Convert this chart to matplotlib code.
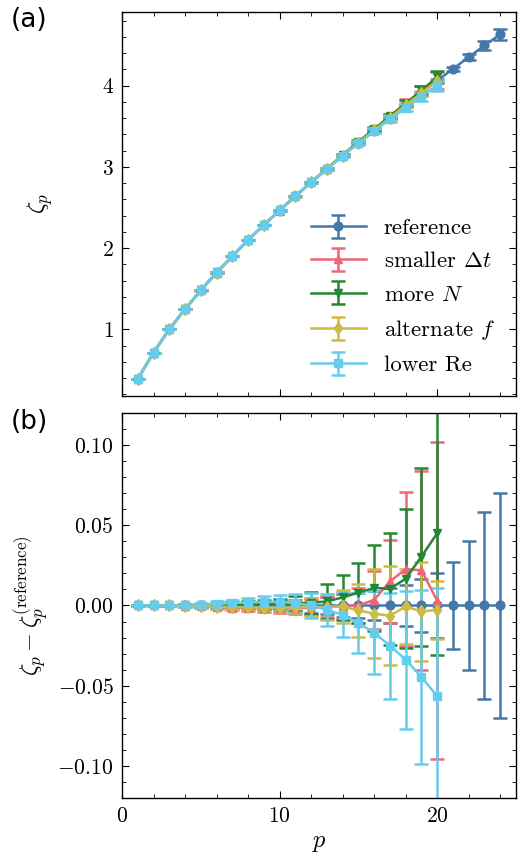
import numpy as np
import matplotlib
matplotlib.use("Agg")
import matplotlib.pyplot as plt
from matplotlib.ticker import MultipleLocator

# === Données ===
p_ref = [1, 2, 3, 4, 5, 6, 7, 8, 9, 10, 11, 12, 13, 14, 15, 16, 17, 18, 19, 20, 21, 22, 23, 24]
zeta_ref = [0.39, 0.715, 1.0, 1.25, 1.48, 1.70, 1.90, 2.10, 2.285, 2.465, 2.64, 2.81,
            2.975, 3.14, 3.30, 3.455, 3.61, 3.76, 3.91, 4.06, 4.205, 4.35, 4.495, 4.63]
err_ref = [0.0003, 0.0004, 0.0005, 0.0007, 0.0009, 0.0012, 0.0015, 0.0019, 0.0024, 0.003,
           0.0037, 0.0045, 0.0055, 0.007, 0.008, 0.0093, 0.011, 0.013, 0.0165, 0.0205,
           0.027, 0.040, 0.058, 0.070]

p = p_ref[:20]

# écarts à la référence (panneau b)
diff_dt = [0, 0, 0, -0.0003, -0.0005, -0.001, -0.0013, -0.0015, -0.0017, -0.0018,
           -0.0018, -0.0015, -0.001, -0.0005, 0.0, 0.0035, 0.015, 0.0226, 0.022, 0.003]
err_dt = [0.0003, 0.0004, 0.0005, 0.0007, 0.0009, 0.0012, 0.0015, 0.0019, 0.0024, 0.003,
          0.0037, 0.0047, 0.006, 0.008, 0.011, 0.018, 0.026, 0.048, 0.062, 0.099]

diff_N = [0, 0, 0, 0.0001, 0.0002, 0.0003, 0.0004, 0.0005, 0.0007, 0.0009,
          0.0012, 0.0017, 0.0025, 0.005, 0.008, 0.011, 0.0104, 0.0166, 0.0304, 0.045]
err_N = [0.0003, 0.0004, 0.0005, 0.0007, 0.0009, 0.0012, 0.0016, 0.002, 0.0026, 0.0033,
         0.0045, 0.007, 0.011, 0.014, 0.0187, 0.027, 0.035, 0.0434, 0.0556, 0.076]

diff_f = [0, 0, 0, -0.0003, -0.0005, -0.0008, -0.001, -0.0012, -0.0013, -0.0013,
          -0.0012, -0.001, -0.001, -0.0006, -0.0031, -0.005, -0.0064, -0.0006, -0.0037, -0.0028]
err_f = [0.0003, 0.0004, 0.0005, 0.0007, 0.0009, 0.0012, 0.0015, 0.0019, 0.0024, 0.003,
         0.0037, 0.0055, 0.008, 0.0105, 0.0165, 0.028, 0.031, 0.0235, 0.031, 0.018]

diff_re = [0, 0, 0, 0, 0.0003, 0.001, 0.0015, 0.002, 0.0022, 0.0022,
           0.0015, 0.0, -0.0027, -0.0058, -0.011, -0.017, -0.025, -0.0337, -0.0445, -0.0565]
err_re = [0.0003, 0.0004, 0.0006, 0.0008, 0.0011, 0.0015, 0.002, 0.0027, 0.0035, 0.0045,
          0.0058, 0.0075, 0.010, 0.014, 0.0186, 0.026, 0.033, 0.043, 0.054, 0.0675]

labels = ["reference", r"smaller $\Delta t$", r"more $N$", r"alternate $f$", "lower Re"]
colors = ["#4477AA", "#EE6677", "#228833", "#CCBB44", "#66CCEE"]
markers = ["o", "^", "v", "d", "s"]

# === Style ===
plt.rcParams.update({
    "font.family": "serif",
    "font.serif": ["cmr10"],
    "mathtext.fontset": "cm",
    "axes.formatter.use_mathtext": True,
    "font.size": 15.5,
    "axes.labelsize": 17.5,
    "legend.fontsize": 16.5,
    "axes.linewidth": 1.0,
    "xtick.direction": "in",
    "ytick.direction": "in",
    "xtick.top": True,
    "ytick.right": True,
    "xtick.major.size": 5,
    "ytick.major.size": 5,
    "xtick.minor.size": 2.8,
    "ytick.minor.size": 2.8,
    "xtick.major.pad": 6,
    "ytick.major.pad": 6,
    "xtick.minor.visible": True,
    "ytick.minor.visible": True,
})

fig = plt.figure(figsize=(5.18, 8.6), dpi=100)
ax1 = fig.add_axes([0.2355, 0.5395, 0.7605, 0.4469])
ax2 = fig.add_axes([0.2355, 0.0721, 0.7605, 0.4477], sharex=ax1)

diffs = [None, diff_dt, diff_N, diff_f, diff_re]
errs = [err_ref, err_dt, err_N, err_f, err_re]

style = dict(lw=1.8, elinewidth=1.8, capsize=5, capthick=1.8, ms=6.3)

for i in range(5):
    if i == 0:
        x, ya, yb = p_ref, zeta_ref, np.zeros(len(p_ref))
    else:
        x = p
        ya = np.array(zeta_ref[:20]) + np.array(diffs[i])
        yb = diffs[i]
    ax1.errorbar(x, ya, yerr=errs[i], color=colors[i], marker=markers[i],
                 label=labels[i], **style)
    ax2.errorbar(x, yb, yerr=errs[i], color=colors[i], marker=markers[i], **style)

ax1.set_xlim(0, 25)
ax1.set_ylim(0.18, 4.91)
ax2.set_ylim(-0.12, 0.12)

ax1.xaxis.set_major_locator(MultipleLocator(10))
ax1.xaxis.set_minor_locator(MultipleLocator(2))
ax1.yaxis.set_major_locator(MultipleLocator(1))
ax1.yaxis.set_minor_locator(MultipleLocator(0.2))
ax2.yaxis.set_major_locator(MultipleLocator(0.05))
ax2.yaxis.set_minor_locator(MultipleLocator(0.01))
ax2.yaxis.set_major_formatter(matplotlib.ticker.FormatStrFormatter(r"$%.2f$"))
plt.setp(ax1.get_xticklabels(), visible=False)

ax1.set_ylabel(r"$\zeta_p$")
ax2.set_ylabel(r"$\zeta_p - \zeta_p^{(\mathrm{reference})}$")
ax2.set_xlabel(r"$p$")
ax1.yaxis.set_label_coords(-0.17, 0.5)
ax2.yaxis.set_label_coords(-0.18, 0.5)

ax1.legend(loc="lower right", frameon=False, handlelength=2.4, borderaxespad=0.5,
           labelspacing=0.58)

fig.text(0.02, 0.992, "(a)", family="DejaVu Sans", fontsize=19, va="top")
fig.text(0.02, 0.524, "(b)", family="DejaVu Sans", fontsize=19, va="top")

plt.savefig("out.png", dpi=100)
